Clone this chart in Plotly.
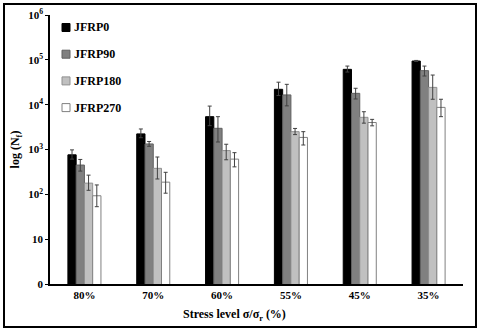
import plotly.graph_objects as go

# stress levels (categories)
levels = ["80%", "70%", "60%", "55%", "45%", "35%"]

# fatigue life N_f (cycles)
jfrp0 = [760, 2230, 5400, 22000, 61400, 94000]
jfrp90 = [450, 1330, 2970, 16500, 17900, 57400]
jfrp180 = [178, 380, 945, 2500, 5220, 24300]
jfrp270 = [93, 187, 610, 1860, 4000, 8700]

# error bars (upper / lower extent)
jfrp0_up = [220, 640, 3900, 9700, 11200, 3000]
jfrp0_dn = [150, 400, 2000, 6000, 8000, 2000]
jfrp90_up = [150, 180, 2430, 11900, 5300, 15200]
jfrp90_dn = [120, 150, 1500, 7100, 4500, 13800]
jfrp180_up = [90, 300, 365, 450, 1740, 21500]
jfrp180_dn = [55, 160, 355, 350, 1350, 11100]
jfrp270_up = [69, 123, 240, 640, 700, 4500]
jfrp270_dn = [40, 81, 200, 600, 630, 3300]

series = [
    ("JFRP0", jfrp0, jfrp0_up, jfrp0_dn, "#000000", "#000000"),
    ("JFRP90", jfrp90, jfrp90_up, jfrp90_dn, "#808080", "#606060"),
    ("JFRP180", jfrp180, jfrp180_up, jfrp180_dn, "#c0c0c0", "#909090"),
    ("JFRP270", jfrp270, jfrp270_up, jfrp270_dn, "#ffffff", "#808080"),
]

font_family = "Liberation Serif"
W, H = 480, 330
L, R, T, B = 50, 17, 15, 46
pw, ph = W - L - R, H - T - B

def px_x(v):
    return (v - L) / pw

def px_y(v):
    return (H - B - v) / ph

fig = go.Figure()
shapes = []
annotations = []
for i, (name, vals, up, dn, fill, edge) in enumerate(series):
    fig.add_trace(go.Bar(
        x=levels, y=vals, name=name, showlegend=False,
        marker=dict(color=fill, line=dict(color=edge, width=1)),
        error_y=dict(type="data", symmetric=False, array=up, arrayminus=dn,
                     color="#404040", thickness=1, width=2),
    ))
    # hand-made legend: small square then label
    yc = 27.5 + i * 26.7
    shapes.append(dict(type="rect", xref="paper", yref="paper",
                       x0=px_x(62), x1=px_x(70), y0=px_y(yc + 4), y1=px_y(yc - 4),
                       fillcolor=fill, line=dict(color=edge, width=1)))
    annotations.append(dict(text=name, xref="paper", yref="paper",
                            x=px_x(72), y=px_y(yc), xanchor="left", yanchor="middle",
                            showarrow=False,
                            font=dict(family=font_family, size=12, weight="bold")))

# x axis title sits left of centre in the original
annotations.append(dict(text="Stress level σ/σ<sub>r</sub> (%)", xref="paper", yref="paper",
                        x=px_x(234), y=px_y(315), xanchor="center", yanchor="middle",
                        showarrow=False,
                        font=dict(family=font_family, size=12, weight="bold")))

# page frame
shapes.append(dict(type="rect", xref="paper", yref="paper",
                   x0=px_x(4), x1=px_x(476), y0=px_y(327), y1=px_y(4),
                   line=dict(color="black", width=2)))

ticks = [1, 10, 100, 1000, 10000, 100000, 1000000]
tick_text = ["0", "10", "10<sup>2</sup>", "10<sup>3</sup>", "10<sup>4</sup>",
             "10<sup>5</sup>", "10<sup>6</sup>"]

fig.update_layout(
    width=W, height=H,
    margin=dict(l=L, r=R, t=T, b=B),
    paper_bgcolor="white", plot_bgcolor="white",
    barmode="group", bargap=0.52, bargroupgap=0.0,
    font=dict(family=font_family, size=11, color="black"),
    showlegend=False,
    xaxis=dict(
        automargin=False,
        showline=True, linecolor="black", linewidth=1.5,
        ticks="", tickfont=dict(size=11, weight="bold"),
    ),
    yaxis=dict(
        automargin=False,
        type="log", range=[0, 6],
        showline=True, linecolor="black", linewidth=1.5,
        ticks="outside", ticklen=3, tickcolor="black",
        tickvals=ticks, ticktext=tick_text,
        tickfont=dict(size=11, weight="bold"),
        showgrid=False, zeroline=False,
        title=dict(text="log (N<sub>f</sub>)",
                   font=dict(size=12, weight="bold"), standoff=6),
    ),
    shapes=shapes,
    annotations=annotations,
)

# page body has a default 8px margin; drop it so the figure sits at 0,0
fig.write_html("out.html", config={"displayModeBar": False},
               post_script="document.body.style.margin='0';")
